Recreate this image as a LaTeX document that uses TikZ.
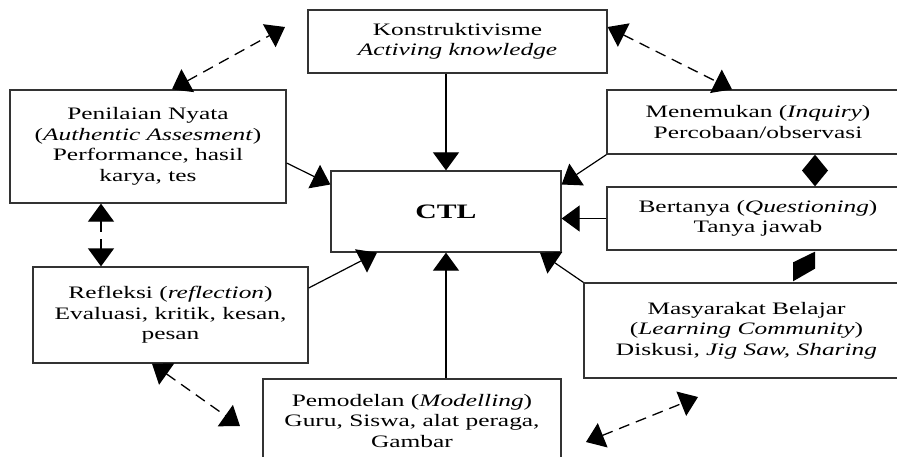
\documentclass[tikz,border=0pt]{standalone}
\usepackage{fontspec}
\setmainfont[FakeStretch=1.45]{Liberation Serif}
\usetikzlibrary{arrows.meta,calc}
\newcommand\dgtxt{\fontsize{17.5}{20.5}\selectfont}
\newcommand\dgbig{\fontsize{20.5}{24}\selectfont\bfseries}
\begin{document}
\begin{tikzpicture}[x=1pt,y=-1pt,
  box/.style={draw=black!80, line width=1.3pt, align=center, inner sep=0pt, font=\dgtxt, rectangle},
  conn/.style={line width=1.2pt, -{Triangle[length=18pt,width=26pt]}},
  dconn/.style={line width=1.3pt, dash pattern=on 11pt off 7pt, {Triangle[length=18pt,width=26pt]}-{Triangle[length=18pt,width=26pt]}}]
\useasboundingbox (0,0) rectangle (897,456);
\clip (0,0) rectangle (897,456);
\fill[white] (0,0) rectangle (897,456);

\node[box, minimum width=299pt, minimum height=63pt] (konst) at (457.5,41.5)
  {Konstruktivisme\\\textit{Activing knowledge}};
\node[box, minimum width=276pt, minimum height=113pt] (penil) at (148,146.5)
  {Penilaian Nyata\\(\textit{Authentic Assesment})\\Performance, hasil\\karya, tes};
\node[box, minimum width=230pt, minimum height=81pt, font=\dgbig] (ctl) at (446,211.5) {CTL};
\node[box, minimum width=302pt, minimum height=64pt] (menem) at (758,122)
  {Menemukan (\textit{Inquiry})\\Percobaan/observasi};
\node[box, minimum width=302pt, minimum height=63pt] (bert) at (758,218.5)
  {Bertanya (\textit{Questioning})\\Tanya jawab};
\node[box, minimum width=325pt, minimum height=95pt] (masy) at (746.5,330.5)
  {Masyarakat Belajar\\(\textit{Learning Community})\\Diskusi, \textit{Jig Saw, Sharing}};
\node[box, minimum width=275pt, minimum height=96pt] (refl) at (170.5,315)
  {Refleksi (\textit{reflection})\\Evaluasi, kritik, kesan,\\pesan};
\node[box, minimum width=298pt, minimum height=84pt] (pemo) at (412,421)
  {Pemodelan (\textit{Modelling})\\Guru, Siswa, alat peraga,\\Gambar};

\coordinate (k1) at (285,27);
\coordinate (r1) at (240,426);
\coordinate (m1) at (586,442);
\coordinate (m2) at (698,397);

% solid connectors
\draw[conn] (ctl.north |- konst.south) -- (ctl.north);
\draw[conn] ([yshift=-16.5pt]penil.east) -- ([yshift=27pt]ctl.west);
\draw[conn] ([yshift=27pt]refl.east) -- ([xshift=-69pt]ctl.south);
\draw[conn] (ctl.south |- pemo.north) -- (ctl.south);
\draw[conn] (menem.south west) -- ([yshift=27pt]ctl.east);
\draw[conn] (bert.west) -- (ctl.east |- bert.west);
\draw[conn] (masy.north west) -- ([xshift=94pt]ctl.south);

% dashed connectors
\draw[dconn] ([xshift=24pt]penil.north) -- (k1);
\draw[dconn] ([yshift=14.5pt]konst.east) -- ([xshift=-26pt]menem.north);
\draw[dconn] ([xshift=-47pt]penil.south) -- ([xshift=-47pt]penil.south |- refl.north);
\draw[dconn] ([xshift=-18.5pt]refl.south) -- (r1);
\draw[dconn] (m1) -- (m2);

% diamond links
\coordinate (dtop) at ([xshift=57pt]menem.south);
\coordinate (dbot) at ([xshift=57pt]bert.north);
\fill (dtop) -- ($(dtop)!0.5!(dbot)+(13,0)$) -- (dbot) -- ($(dtop)!0.5!(dbot)+(-13,0)$) -- cycle;
\fill ([xshift=57pt,yshift=-1pt]bert.south) -- ++(0,17) -- ($([xshift=46.5pt,yshift=1pt]masy.north)$) -- ++(0,-19) -- cycle;
\end{tikzpicture}
\end{document}
